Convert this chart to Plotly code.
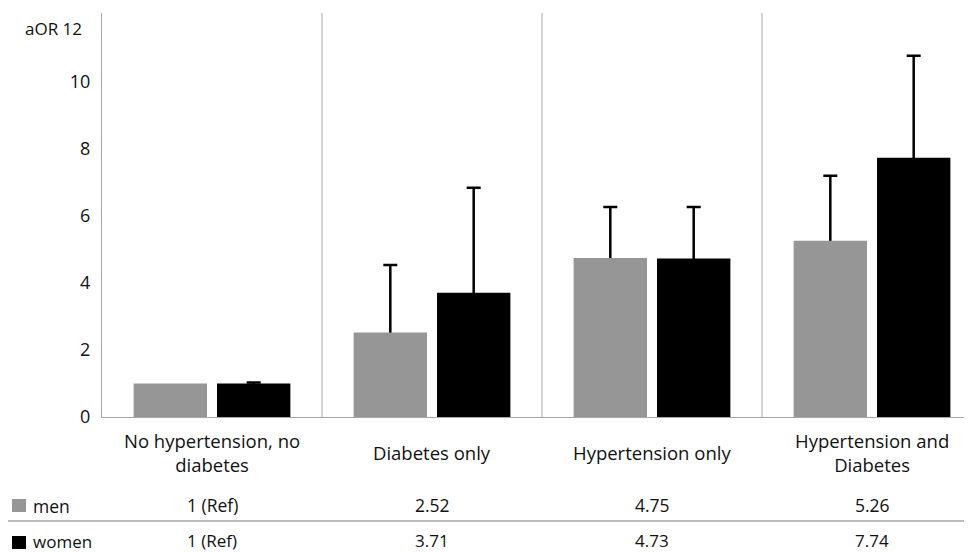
import plotly.graph_objects as go

categories = ["No hypertension, no<br>diabetes", "Diabetes only", "Hypertension only", "Hypertension and<br>Diabetes"]
men_aor = [1.0, 2.52, 4.75, 5.26]
women_aor = [1.0, 3.71, 4.73, 7.74]
men_upper = [None, 4.54, 6.27, 7.20]
women_upper = [1.03, 6.84, 6.27, 10.78]
men_labels = ["1 (Ref)", "2.52", "4.75", "5.26"]
women_labels = ["1 (Ref)", "3.71", "4.73", "7.74"]
y_ticks = [0, 2, 4, 6, 8, 10]

GRAY = "#969696"
BLACK = "#000000"
LINE = "#a6a6a6"
TXT = "#111111"
FONT = "Open Sans"

# page body has an 8px margin: figure is drawn at (8, 8) in the window
OFF = 8
W, H = 972 - OFF, 552 - OFF
TOP, BOTTOM, LEFT = 13 - OFF, 417 - OFF, 102 - OFF
PLOT_H = BOTTOM - TOP
PLOT_W = W - LEFT
PX_PER_UNIT = 33.5
PX_PER_CAT = 220.0

def py(p):  # window pixel -> paper y
    return (BOTTOM - (p - OFF)) / PLOT_H

def pxx(p):  # window pixel -> paper x
    return ((p - OFF) - LEFT) / PLOT_W

x = list(range(len(categories)))
CAP = 0.12  # hide the lower cap of the error bars inside the bars

fig = go.Figure()

# error bars drawn first (behind the bars), upper whisker only
men_ci_idx = [i for i, u in enumerate(men_upper) if u is not None]
fig.add_trace(go.Bar(
    x=[x[i] for i in men_ci_idx], y=[men_aor[i] for i in men_ci_idx],
    marker=dict(color=GRAY, opacity=0, line=dict(width=0)), offsetgroup="men",
    showlegend=False, hoverinfo="skip",
    error_y=dict(type="data", symmetric=False,
                 array=[men_upper[i] - men_aor[i] for i in men_ci_idx],
                 arrayminus=[CAP] * len(men_ci_idx),
                 color=BLACK, thickness=2.5, width=7),
))
fig.add_trace(go.Bar(
    x=x, y=women_aor,
    marker=dict(color=BLACK, opacity=0, line=dict(width=0)), offsetgroup="women",
    showlegend=False, hoverinfo="skip",
    error_y=dict(type="data", symmetric=False,
                 array=[u - v for u, v in zip(women_upper, women_aor)],
                 arrayminus=[CAP] * len(women_aor),
                 color=BLACK, thickness=2.5, width=7),
))
fig.add_trace(go.Bar(
    x=x, y=men_aor, name="men",
    marker=dict(color=GRAY, line=dict(width=0)), offsetgroup="men", showlegend=False,
))
fig.add_trace(go.Bar(
    x=x, y=women_aor, name="women",
    marker=dict(color=BLACK, line=dict(width=0)), offsetgroup="women", showlegend=False,
))

shapes = []
for i in range(len(categories) - 1):
    shapes.append(dict(type="line", xref="x", yref="paper", x0=i + 0.5, x1=i + 0.5,
                       y0=0, y1=1, line=dict(color=LINE, width=1)))
shapes.append(dict(type="line", xref="paper", yref="paper", x0=pxx(8), x1=1,
                   y0=py(521), y1=py(521), line=dict(color=LINE, width=1.5)))
shapes.append(dict(type="rect", xref="paper", yref="paper", x0=pxx(12), x1=pxx(26),
                   y0=py(512), y1=py(499), fillcolor=GRAY, line=dict(width=0)))
shapes.append(dict(type="rect", xref="paper", yref="paper", x0=pxx(12), x1=pxx(26),
                   y0=py(549), y1=py(536), fillcolor=BLACK, line=dict(width=0)))

def ann(xv, xref, yv, text, size, anchor="center"):
    return dict(x=xv, xref=xref, y=yv, yref="paper", text=text, showarrow=False,
                xanchor=anchor, yanchor="middle",
                font=dict(family=FONT, size=size, color=TXT))

annotations = []
for i, c in enumerate(categories):
    annotations.append(ann(x[i], "x", py(452), c, 18.5))
    annotations.append(ann(x[i], "x", py(505), men_labels[i], 17.5))
    annotations.append(ann(x[i], "x", py(540.5), women_labels[i], 17))
annotations.append(ann(pxx(31), "paper", py(506), "men", 17.5, "left"))
annotations.append(ann(pxx(31), "paper", py(541), "women", 17, "left"))
annotations.append(ann(pxx(84), "paper", py(28), "aOR 12", 17, "right"))

fig.update_layout(
    width=W, height=H,
    margin=dict(l=LEFT, r=0, t=TOP, b=H - BOTTOM, pad=0),
    paper_bgcolor="white", plot_bgcolor="white",
    barmode="group", bargap=0.242, bargroupgap=0.12,
    shapes=shapes, annotations=annotations,
    showlegend=False,
    xaxis=dict(range=[-0.5, -0.5 + PLOT_W / PX_PER_CAT], showticklabels=False, ticks="",
               showgrid=False, zeroline=False, showline=True, linecolor=LINE, linewidth=1),
    yaxis=dict(range=[0, PLOT_H / PX_PER_UNIT], tickvals=y_ticks, ticks="",
               showgrid=False, zeroline=False, showline=True, linecolor=LINE,
               linewidth=1, ticklabelstandoff=7,
               tickfont=dict(family=FONT, size=18, color=TXT)),
    font=dict(family=FONT, size=16, color=TXT),
)

fig.write_html("out.html")
